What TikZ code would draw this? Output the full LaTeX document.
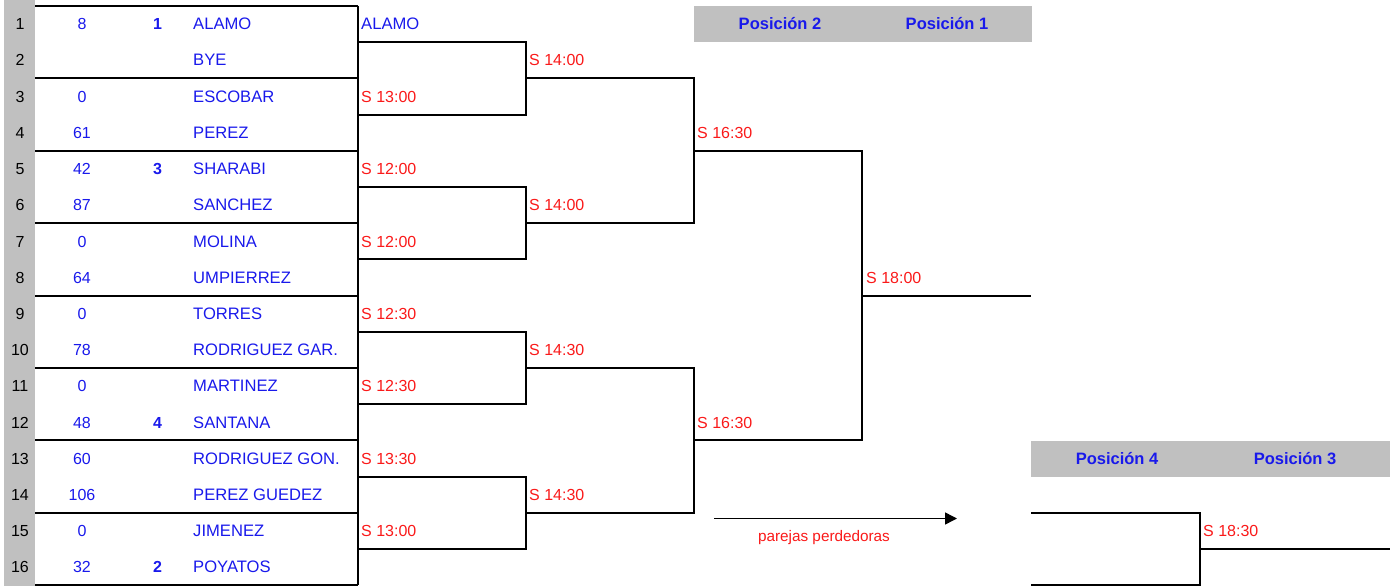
\documentclass[tikz,border=0pt]{standalone}
\usepackage{fontspec}
\setmainfont{Liberation Sans}
\usetikzlibrary{positioning}
\usetikzlibrary{arrows.meta}
\definecolor{cellgray}{RGB}{192,192,192}
\definecolor{teamblue}{RGB}{25,25,235}
\definecolor{slotred}{RGB}{250,25,25}
\tikzset{
    gridline/.style = {line width=2pt, draw=black},
    graycell/.style = {fill=cellgray, draw=none},
    rowno/.style = {anchor=base, inner sep=0pt, font=\fontsize{16}{19}\selectfont, text=black},
    points/.style = {anchor=base, inner sep=0pt, font=\fontsize{16}{19}\selectfont, text=teamblue},
    seed/.style = {anchor=base, inner sep=0pt, font=\fontsize{16}{19}\selectfont\bfseries, text=teamblue},
    team/.style = {anchor=base west, inner sep=0pt, font=\fontsize{16.6}{19}\selectfont, text=teamblue},
    slot/.style = {anchor=base west, inner sep=0pt, font=\fontsize{16}{19}\selectfont, text=slotred},
    header/.style = {anchor=base, inner sep=0pt, font=\fontsize{16.5}{19}\selectfont\bfseries, text=teamblue},
    note/.style = {anchor=base, inner sep=0pt, font=\fontsize{15.3}{18}\selectfont, text=slotred},
    loserarrow/.style = {-{Triangle[length=12pt,width=12pt]}, line width=1.5pt}
}

\begin{document}
\begin{tikzpicture}[x=1pt,y=-1pt]
\useasboundingbox (0,0) rectangle (1395,586);
%
% gray cells
\fill[graycell] (4,0) rectangle (35,586);
\fill[graycell] (694,6) rectangle (1032,42.2);
\fill[graycell] (1031,440.6) rectangle (1390,476.8);
%
\foreach \k/\pts/\sd/\name in {1/8/1/ALAMO, 2///BYE, 3/0//ESCOBAR, 4/61//PEREZ,
    5/42/3/SHARABI, 6/87//SANCHEZ, 7/0//MOLINA, 8/64//UMPIERREZ,
    9/0//TORRES, 10/78//RODRIGUEZ GAR., 11/0//MARTINEZ, 12/48/4/SANTANA,
    13/60//RODRIGUEZ GON., 14/106//PEREZ GUEDEZ, 15/0//JIMENEZ, 16/32/2/POYATOS}
{
  \pgfmathsetmacro{\yb}{6+(\k-0.5)*36.2+5.7}
  \node[rowno] (row\k) at (20,\yb) {\k};
  \node[points] (pts\k) at (82,\yb) {\pts};
  \node[seed] (seed\k) at (157.5,\yb) {\sd};
  \node[team] (team\k) at (193,\yb) {\name};
}
%
% match times
\foreach \k/\x/\t in {3/361/S 13:00, 5/361/S 12:00, 7/361/S 12:00, 9/361/S 12:30,
    11/361/S 12:30, 13/361/S 13:30, 15/361/S 13:00,
    2/529/S 14:00, 6/529/S 14:00, 10/529/S 14:30, 14/529/S 14:30,
    4/697/S 16:30, 12/697/S 16:30, 8/866/S 18:00, 15/1203/S 18:30}
{
  \pgfmathsetmacro{\yb}{6+(\k-0.5)*36.2+5.7}
  \node[slot] (slot\k-\x) at (\x,\yb) {\t};
}
\node[team] (winner1) at (361,{6+0.5*36.2+5.7}) {ALAMO};
%
\node[header] (pos2) at (780,{6+0.5*36.2+5.7}) {Posición 2};
\node[header] (pos1) at (947,{6+0.5*36.2+5.7}) {Posición 1};
\node[header] (pos4) at (1117,{6+12.5*36.2+5.7}) {Posición 4};
\node[header] (pos3) at (1295,{6+12.5*36.2+5.7}) {Posición 3};
%
% first round boxes
\foreach \j in {0,2,...,16}
  \draw[gridline] (35,{6+\j*36.2}) -- (358,{6+\j*36.2});
\draw[gridline] (358,6) -- (358,{6+16*36.2});
%
% brackets
\foreach \j in {1,5,9,13}
  \draw[gridline] (358,{6+\j*36.2}) -| (526,{6+(\j+2)*36.2}) -- (358,{6+(\j+2)*36.2});
\foreach \j in {2,10}
  \draw[gridline] (526,{6+\j*36.2}) -| (694,{6+(\j+4)*36.2}) -- (526,{6+(\j+4)*36.2});
\draw[gridline] (694,{6+4*36.2}) -| (862,{6+12*36.2}) -- (694,{6+12*36.2});
\draw[gridline] (862,{6+8*36.2}) -- (1031,{6+8*36.2});
%
% third place
\draw[gridline] (1031,{6+14*36.2}) -| (1200,{6+16*36.2}) -- (1031,{6+16*36.2});
\draw[gridline] (1200,{6+15*36.2}) -- (1390,{6+15*36.2});
%
\coordinate (lossfrom) at (714,518.5);
\coordinate (lossto) at (957,518.5);
\draw[loserarrow] (lossfrom) -- (lossto);
\node[note] (losers) at (824,541) {parejas perdedoras};
\end{tikzpicture}
\end{document}
